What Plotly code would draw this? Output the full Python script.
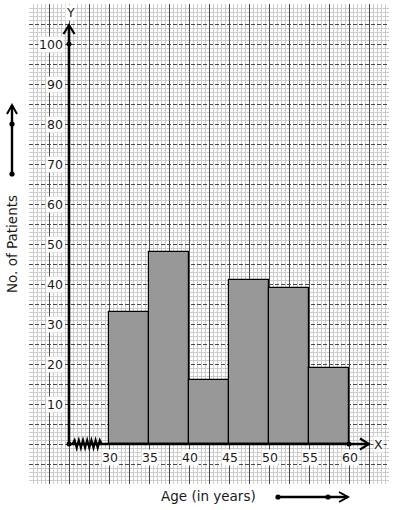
import plotly.graph_objects as go

# ---- data ----
bin_starts = [30, 35, 40, 45, 50, 55]
bin_width = 5
patients = [33, 48, 16, 41, 39, 19]
x_tick_vals = [30, 35, 40, 45, 50, 55, 60]
y_tick_vals = [10, 20, 30, 40, 50, 60, 70, 80, 90, 100]

# ---- geometry / style constants ----
W, H = 394, 510
ML, MR, MT, MB = 29, 5, 4, 26
X_RANGE = [20, 65]
Y_RANGE = [-10, 110]
AXIS_X0 = 25          # where the Y axis is drawn (broken scale)
PXX = (W - ML - MR) / (X_RANGE[1] - X_RANGE[0])   # px per x unit
PXY = (H - MT - MB) / (Y_RANGE[1] - Y_RANGE[0])   # px per y unit
FONT = "DejaVu Sans"
TXT = "#1a1a1a"

centers = [s + bin_width / 2 for s in bin_starts]

fig = go.Figure()
fig.add_trace(go.Bar(
    x=centers, y=patients, width=[bin_width] * len(patients),
    marker=dict(color="#989898", line=dict(color="black", width=1.2)),
    hoverinfo="skip",
))

def px2dx(p):
    return p / PXX

def px2dy(p):
    return p / PXY

shapes = []
axis_w = 2.6
y_top = 104.75
x_end = 62.5

# Y axis line and arrow
shapes.append(dict(type="line", xref="x", yref="y", x0=AXIS_X0, x1=AXIS_X0, y0=0, y1=y_top,
                   line=dict(color="black", width=axis_w)))
shapes.append(dict(type="path", xref="x", yref="y",
                   path=f"M{AXIS_X0 - px2dx(5.5)},{y_top - px2dy(9)} L{AXIS_X0},{y_top} L{AXIS_X0 + px2dx(5.5)},{y_top - px2dy(9)}",
                   line=dict(color="black", width=2.2)))
# X axis line and arrow
shapes.append(dict(type="line", xref="x", yref="y", x0=AXIS_X0, x1=x_end, y0=0, y1=0,
                   line=dict(color="black", width=axis_w)))
shapes.append(dict(type="path", xref="x", yref="y",
                   path=f"M{x_end - px2dx(9)},{px2dy(5.5)} L{x_end},0 L{x_end - px2dx(9)},{-px2dy(5.5)}",
                   line=dict(color="black", width=2.2)))
# zigzag (axis break)
zx0 = AXIS_X0 + px2dx(3.5)
n_teeth = 13
step = px2dx(2.1)
pts = [f"M{zx0},0"]
for i in range(1, n_teeth + 1):
    yy = px2dy(4) * (1 if i % 2 else -1)
    pts.append(f"L{zx0 + i * step},{yy}")
pts.append(f"L{zx0 + (n_teeth + 1) * step},0")
shapes.append(dict(type="path", xref="x", yref="y", path=" ".join(pts),
                   line=dict(color="black", width=2)))

def dot_paper(px, py, r=2.6):
    return dict(type="circle", xref="paper", yref="paper",
                x0=(px - r - ML) / (W - ML - MR), x1=(px + r - ML) / (W - ML - MR),
                y0=(H - MB - (py + r)) / (H - MT - MB), y1=(H - MB - (py - r)) / (H - MT - MB),
                fillcolor="black", line=dict(color="black", width=0))

def pp(px, py):
    return (px - ML) / (W - ML - MR), (H - MB - py) / (H - MT - MB)

# left scale arrow (vertical)
a0 = pp(12, 174); a1 = pp(12, 105)
shapes.append(dict(type="line", xref="paper", yref="paper", x0=a0[0], y0=a0[1], x1=a1[0], y1=a1[1],
                   line=dict(color="black", width=2.4)))
l1 = pp(7, 114); l2 = pp(17, 114)
shapes.append(dict(type="path", xref="paper", yref="paper",
                   path=f"M{l1[0]},{l1[1]} L{a1[0]},{a1[1]} L{l2[0]},{l2[1]}",
                   line=dict(color="black", width=2)))
shapes.append(dot_paper(12, 124))
shapes.append(dot_paper(12, 174))

# bottom scale arrow (horizontal)
b0 = pp(278, 497); b1 = pp(348, 497)
shapes.append(dict(type="line", xref="paper", yref="paper", x0=b0[0], y0=b0[1], x1=b1[0], y1=b1[1],
                   line=dict(color="black", width=2.4)))
r1 = pp(339, 492); r2 = pp(339, 502)
shapes.append(dict(type="path", xref="paper", yref="paper",
                   path=f"M{r1[0]},{r1[1]} L{b1[0]},{b1[1]} L{r2[0]},{r2[1]}",
                   line=dict(color="black", width=2)))
shapes.append(dot_paper(278, 497))
shapes.append(dot_paper(328, 497))

# dots on axes (origin, 100 on Y, 60 on X)
fig.add_trace(go.Scatter(
    x=[AXIS_X0, AXIS_X0, x_tick_vals[-1]], y=[0, y_tick_vals[-1], 0], mode="markers",
    marker=dict(color="black", size=5), hoverinfo="skip", cliponaxis=False,
))

annotations = []
for v in y_tick_vals:
    annotations.append(dict(x=AXIS_X0, y=v, xref="x", yref="y", text=str(v), showarrow=False,
                            xanchor="right", yanchor="middle", xshift=-5,
                            bgcolor="white", borderpad=0,
                            font=dict(family=FONT, size=12.5, color=TXT)))
for v in x_tick_vals:
    annotations.append(dict(x=v, y=0, xref="x", yref="y", text=str(v), showarrow=False,
                            xanchor="center", yanchor="top", yshift=-5, xshift=1,
                            bgcolor="white", borderpad=0,
                            font=dict(family=FONT, size=12.5, color=TXT)))
annotations.append(dict(x=AXIS_X0, y=y_top, xref="x", yref="y", text="Y", showarrow=False,
                        xanchor="center", yanchor="bottom", yshift=4, xshift=1,
                        bgcolor="white", borderpad=0, font=dict(family=FONT, size=12.5, color=TXT)))
annotations.append(dict(x=x_end, y=0, xref="x", yref="y", text="X", showarrow=False,
                        xanchor="left", yanchor="middle", xshift=4,
                        bgcolor="white", borderpad=0, font=dict(family=FONT, size=12.5, color=TXT)))
tx, ty = pp(12, 244)
annotations.append(dict(x=tx, y=ty, xref="paper", yref="paper", text="No. of Patients", showarrow=False,
                        textangle=-90, xanchor="center", yanchor="middle",
                        font=dict(family=FONT, size=13.5, color=TXT)))
tx, ty = pp(208, 496)
annotations.append(dict(x=tx, y=ty, xref="paper", yref="paper", text="Age (in years)", showarrow=False,
                        xanchor="center", yanchor="middle",
                        font=dict(family=FONT, size=13.5, color=TXT)))

fig.update_layout(
    width=W, height=H, margin=dict(l=ML, r=MR, t=MT, b=MB, pad=0),
    paper_bgcolor="white", plot_bgcolor="white", showlegend=False,
    shapes=shapes, annotations=annotations, bargap=0,
    xaxis=dict(range=X_RANGE, tick0=20, dtick=2.5, showticklabels=False, ticks="",
               showgrid=True, gridcolor="#4a4a4a", gridwidth=1, zeroline=False, showline=False,
               minor=dict(dtick=0.5, tick0=20, showgrid=True, gridcolor="#cccccc", gridwidth=1,
                          griddash="solid"),
               fixedrange=True),
    yaxis=dict(range=Y_RANGE, tick0=0, dtick=5, showticklabels=False, ticks="",
               showgrid=True, gridcolor="#4a4a4a", gridwidth=1, griddash="4px,2px",
               zeroline=False, showline=False,
               minor=dict(dtick=1, tick0=0, showgrid=True, gridcolor="#cccccc", gridwidth=1,
                          griddash="solid"),
               fixedrange=True),
)

fig.write_html("out.html")
